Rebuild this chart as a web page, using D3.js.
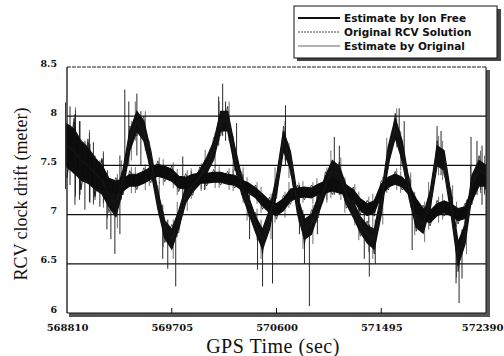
<!DOCTYPE html>
<html>
<head>
<meta charset="utf-8">
<script src="https://cdn.jsdelivr.net/npm/d3@7"></script>
<style>
  html, body { margin: 0; padding: 0; background: #fff; }
  svg { display: block; }
</style>
</head>
<body>
<svg id="chart" width="504" height="356"></svg>
<script>
// GPS time span and axis ticks
const timeStart = 568810;
const timeEnd = 572390;
const xTickValues = [568810, 569705, 570600, 571495, 572390];
const yTickValues = [6, 6.5, 7, 7.5, 8, 8.5];
const gridValues = [6.5, 7, 7.5, 8];

const seriesNames = ["Estimate by Ion Free", "Original RCV Solution", "Estimate by Original"];

// Receiver clock drift, sampled evenly across the time span (61 samples)
const originalMid = [
  7.70, 7.65, 7.55, 7.50, 7.42, 7.35, 7.20, 7.10, 7.35, 7.75,
  7.95, 7.85, 7.55, 7.15, 6.85, 6.75, 6.95, 7.20, 7.30, 7.38,
  7.50, 7.65, 7.95, 7.95, 7.60, 7.30, 7.10, 6.90, 6.75, 6.95,
  7.30, 7.75, 7.55, 7.10, 6.85, 6.90, 7.10, 7.30, 7.45, 7.40,
  7.20, 7.05, 6.90, 6.80, 6.75, 7.10, 7.60, 7.88, 7.65, 7.25,
  6.95, 6.90, 7.15, 7.60, 7.55, 7.10, 6.60, 6.80, 7.30, 7.45,
  7.40
];
const originalSpread = [
  0.22, 0.22, 0.20, 0.18, 0.16, 0.14, 0.12, 0.12, 0.10, 0.10,
  0.10, 0.10, 0.10, 0.09, 0.09, 0.10, 0.09, 0.08, 0.07, 0.07,
  0.08, 0.09, 0.10, 0.10, 0.10, 0.09, 0.08, 0.08, 0.10, 0.10,
  0.09, 0.10, 0.09, 0.09, 0.10, 0.10, 0.09, 0.09, 0.10, 0.09,
  0.09, 0.08, 0.08, 0.09, 0.10, 0.10, 0.09, 0.10, 0.10, 0.09,
  0.08, 0.09, 0.09, 0.10, 0.10, 0.10, 0.12, 0.10, 0.10, 0.10,
  0.10
];
const ionFreeMid = [
  7.70, 7.62, 7.55, 7.48, 7.42, 7.38, 7.30, 7.28, 7.30, 7.35,
  7.35, 7.38, 7.42, 7.45, 7.43, 7.40, 7.33, 7.32, 7.36, 7.37,
  7.37, 7.38, 7.38, 7.36, 7.35, 7.30, 7.27, 7.22, 7.15, 7.08,
  7.05, 7.10, 7.20, 7.22, 7.23, 7.22, 7.26, 7.28, 7.30, 7.28,
  7.25, 7.20, 7.10, 7.05, 7.08, 7.25, 7.33, 7.36, 7.33, 7.25,
  7.10, 7.00, 6.98, 7.05, 7.08, 7.05, 7.00, 7.02, 7.20, 7.35,
  7.35
];
const ionFreeSpread = [
  0.20, 0.20, 0.18, 0.16, 0.14, 0.12, 0.07, 0.06, 0.06, 0.06,
  0.06, 0.06, 0.06, 0.06, 0.06, 0.06, 0.06, 0.06, 0.05, 0.05,
  0.05, 0.05, 0.05, 0.05, 0.05, 0.05, 0.05, 0.05, 0.06, 0.06,
  0.06, 0.06, 0.06, 0.05, 0.05, 0.05, 0.05, 0.06, 0.06, 0.06,
  0.05, 0.05, 0.06, 0.06, 0.06, 0.06, 0.05, 0.05, 0.05, 0.05,
  0.06, 0.06, 0.06, 0.06, 0.06, 0.06, 0.06, 0.06, 0.06, 0.06,
  0.06
];
// Isolated noise spikes: [time, low, high]
const spikes = [
  [568836, 7.30, 8.10], [568878, 7.10, 8.02], [568921, 7.20, 7.95], [568963, 7.05, 7.75],
  [569006, 7.12, 7.72], [569049, 7.15, 7.60], [569091, 7.08, 7.55], [569151, 6.85, 7.40],
  [569185, 6.75, 7.30], [569219, 6.60, 7.35], [569262, 6.80, 7.60], [569304, 7.30, 8.27],
  [569338, 7.50, 8.15], [569407, 7.60, 8.23], [569441, 7.50, 8.05], [569628, 6.55, 7.10],
  [569671, 6.45, 6.95], [569739, 6.27, 6.95], [569799, 7.00, 7.59], [569986, 7.25, 7.55],
  [570106, 7.70, 8.20], [570140, 7.80, 8.33], [570165, 7.75, 8.15], [570259, 7.40, 7.93],
  [570370, 6.75, 7.20], [570438, 6.44, 6.95], [570481, 6.27, 6.85], [570566, 6.30, 7.00],
  [570677, 7.50, 8.11], [570796, 6.80, 7.30], [570839, 6.50, 7.00], [570881, 6.07, 6.95],
  [570949, 6.80, 7.30], [571094, 7.20, 7.79], [571137, 7.20, 7.70], [571350, 6.55, 7.00],
  [571393, 6.37, 6.90], [571444, 6.50, 6.95], [571648, 7.70, 8.08], [571691, 7.55, 7.95],
  [571759, 6.64, 7.10], [571972, 7.50, 7.90], [572006, 7.40, 7.85], [572134, 6.30, 6.80],
  [572160, 6.10, 6.70], [572185, 6.35, 6.85], [572262, 7.10, 7.79], [572313, 7.20, 7.75],
  [572356, 7.10, 7.70]
];

const sampleTimes = d3.range(originalMid.length)
  .map(i => timeStart + i * (timeEnd - timeStart) / (originalMid.length - 1));

const svg = d3.select("#chart");
const plotLeft = 67, plotRight = 486, plotTop = 67, plotBottom = 313;

const x = d3.scaleLinear().domain([timeStart, timeEnd]).range([plotLeft, plotRight]);
const y = d3.scaleLinear().domain([6, 8.5]).range([plotBottom, plotTop]);

const serif = "'Liberation Serif', 'Times New Roman', serif";
const tickFont = "'DejaVu Serif', serif";
const sans = "'DejaVu Sans', Arial, sans-serif";

// Horizontal grid lines
svg.append("g").selectAll("line").data(gridValues).join("line")
  .attr("x1", plotLeft).attr("x2", plotRight)
  .attr("y1", d => y(d)).attr("y2", d => y(d))
  .attr("stroke", "#111").attr("stroke-width", 1.2);

// Band of a noisy trace between mid - spread and mid + spread
function band(mid, spread) {
  return d3.area()
    .x((d, i) => x(sampleTimes[i]))
    .y0((d, i) => y(mid[i] - spread[i]))
    .y1((d, i) => y(mid[i] + spread[i]))(mid);
}
// Saw-tooth stroke through the band edges, giving the band a ragged outline
function zigzag(mid, spread, k) {
  const pts = [];
  mid.forEach((m, i) => {
    const s = i % 2 ? 1 : -1;
    pts.push([x(sampleTimes[i]), y(m + s * spread[i] * k)]);
  });
  return d3.line()(pts);
}
// Hairlines at every sample spanning the noise envelope
function hairlines(g, mid, spread, k, w) {
  g.append("g").selectAll("line").data(mid).join("line")
    .attr("x1", (d, i) => x(sampleTimes[i]) + (i % 2 ? 1.5 : -1.5))
    .attr("x2", (d, i) => x(sampleTimes[i]) + (i % 2 ? 1.5 : -1.5))
    .attr("y1", (d, i) => y(d - spread[i] * k))
    .attr("y2", (d, i) => y(d + spread[i] * k))
    .attr("stroke", "#111").attr("stroke-width", w);
}

const plot = svg.append("g");

// Original RCV Solution: noisy band
plot.append("path").attr("d", band(originalMid, originalSpread))
  .attr("fill", "#111").attr("stroke", "#111").attr("stroke-width", 1.2);
plot.append("path").attr("d", zigzag(originalMid, originalSpread, 1.5))
  .attr("fill", "none").attr("stroke", "#111").attr("stroke-width", 0.7);
hairlines(plot, originalMid, originalSpread, 2.0, 0.6);

// Estimate by Ion Free
plot.append("path").attr("d", band(ionFreeMid, ionFreeSpread))
  .attr("fill", "#0c0c0c").attr("stroke", "#0c0c0c").attr("stroke-width", 1.2);
plot.append("path").attr("d", zigzag(ionFreeMid, ionFreeSpread, 1.6))
  .attr("fill", "none").attr("stroke", "#0c0c0c").attr("stroke-width", 0.7);
hairlines(plot, ionFreeMid, ionFreeSpread, 2.2, 0.6);

// Estimate by Original: centre line of the original trace
plot.append("path")
  .attr("d", d3.line().x((d, i) => x(sampleTimes[i])).y(d => y(d))(originalMid))
  .attr("fill", "none").attr("stroke", "#1a1a1a").attr("stroke-width", 1);

// Noise spikes
plot.append("g").selectAll("line").data(spikes).join("line")
  .attr("x1", d => x(d[0])).attr("x2", d => x(d[0]))
  .attr("y1", d => y(d[1])).attr("y2", d => y(d[2]))
  .attr("stroke", "#111").attr("stroke-width", 0.9);

// Frame with shadow on right and bottom
svg.append("rect").attr("x", plotRight).attr("y", plotTop + 3).attr("width", 4).attr("height", plotBottom - plotTop + 1)
  .attr("fill", "#555");
svg.append("rect").attr("x", plotLeft + 2).attr("y", plotBottom).attr("width", plotRight - plotLeft + 2).attr("height", 4)
  .attr("fill", "#555");
svg.append("line").attr("x1", plotLeft).attr("x2", plotRight).attr("y1", plotTop).attr("y2", plotTop)
  .attr("stroke", "#222").attr("stroke-width", 1).attr("stroke-dasharray", "4,1");
svg.append("line").attr("x1", plotLeft).attr("x2", plotLeft).attr("y1", plotTop).attr("y2", plotBottom)
  .attr("stroke", "#111").attr("stroke-width", 1.3);
svg.append("line").attr("x1", plotRight).attr("x2", plotRight).attr("y1", plotTop).attr("y2", plotBottom)
  .attr("stroke", "#111").attr("stroke-width", 1);
svg.append("line").attr("x1", plotLeft).attr("x2", plotRight).attr("y1", plotBottom).attr("y2", plotBottom)
  .attr("stroke", "#111").attr("stroke-width", 1.2);

// Axes
const xAxis = d3.axisBottom(x).tickValues(xTickValues).tickSize(0).tickPadding(11)
  .tickFormat(d3.format("d"));
const gx = svg.append("g").attr("transform", `translate(0,${plotBottom})`).call(xAxis);
gx.select(".domain").remove();
gx.selectAll("text").attr("font-family", tickFont).attr("font-weight", "bold")
  .attr("font-size", 10).attr("fill", "#111");
// keep the last label inside the page
gx.selectAll(".tick").filter(d => d === timeEnd).select("text")
  .attr("text-anchor", "end").attr("x", 503 - x(timeEnd));
// small upward tick marks
svg.append("g").selectAll("line").data(xTickValues.slice(1, -1)).join("line")
  .attr("x1", d => x(d)).attr("x2", d => x(d))
  .attr("y1", plotBottom).attr("y2", plotBottom - 5)
  .attr("stroke", "#111").attr("stroke-width", 1);

const yAxis = d3.axisLeft(y).tickValues(yTickValues).tickSize(0).tickPadding(10)
  .tickFormat(d => d3.format("")(d));
const gy = svg.append("g").attr("transform", `translate(${plotLeft},0)`).call(yAxis);
gy.select(".domain").remove();
gy.selectAll("text").attr("font-family", tickFont).attr("font-weight", "bold")
  .attr("font-size", 9.5).attr("fill", "#111").attr("dy", "-0.1em");

// Axis titles
svg.append("text").attr("x", 273).attr("y", 353).attr("text-anchor", "middle")
  .attr("font-family", serif).attr("font-size", 20).attr("letter-spacing", 0.5).attr("fill", "#111")
  .text("GPS Time (sec)");
svg.append("text").attr("transform", "translate(27,194) rotate(-90)")
  .attr("text-anchor", "middle").attr("font-family", serif).attr("font-size", 18)
  .attr("fill", "#111").text("RCV clock drift (meter)");

// Legend
const lg = svg.append("g");
lg.append("rect").attr("x", 297).attr("y", 9).attr("width", 204).attr("height", 52).attr("fill", "#444");
lg.append("rect").attr("x", 294).attr("y", 6).attr("width", 203).attr("height", 52)
  .attr("fill", "#fff").attr("stroke", "#111").attr("stroke-width", 1);
const legendStyles = [
  { w: 2, c: "#111", dash: null },
  { w: 1, c: "#444", dash: "2,1" },
  { w: 1.2, c: "#666", dash: null }
];
seriesNames.forEach((name, i) => {
  const ly = 18 + i * 14;
  lg.append("line").attr("x1", 298).attr("x2", 340).attr("y1", ly).attr("y2", ly)
    .attr("stroke", legendStyles[i].c).attr("stroke-width", legendStyles[i].w)
    .attr("stroke-dasharray", legendStyles[i].dash);
  lg.append("text").attr("x", 344).attr("y", ly + 4)
    .attr("font-family", sans).attr("font-weight", "bold").attr("font-size", 10.5)
    .attr("fill", "#111").text(name);
});
</script>
</body>
</html>
